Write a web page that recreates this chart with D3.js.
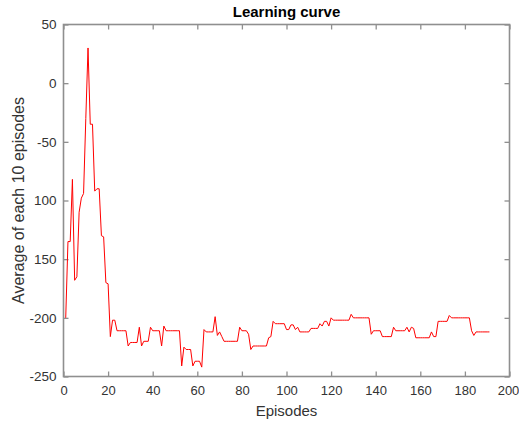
<!DOCTYPE html>
<html>
<head>
<meta charset="utf-8">
<script src="https://cdn.jsdelivr.net/npm/d3@7"></script>
<style>
  body { margin: 0; background: #fff; }
  text { font-family: "Liberation Sans", Arial, sans-serif; }
</style>
</head>
<body>
<div class="chart"></div>
<script>
const width = 519;
const height = 425;
const margin = {left: 63.5, top: 24.5, right: 9.5, bottom: 48.5};

// average of each 10 episodes, episode 1..191
const episodeAverages = [
  -200, -135, -135, -82, -168, -165, -110, -98, -94, -30,
  30, -35, -35, -92, -90, -90, -130, -131, -170, -171,
  -216, -202, -202, -211, -211, -211, -211, -211, -224, -221,
  -221, -221, -221, -208, -224, -220, -220, -220, -208, -211,
  -211, -211, -211, -224, -207, -211, -211, -211, -211, -211,
  -211, -211, -241, -225, -227, -227, -227, -241, -237, -237,
  -237, -242, -210, -212, -212, -212, -212, -199, -215, -212,
  -216, -220, -220, -220, -220, -220, -220, -220, -208, -211,
  -211, -211, -214, -227, -224, -224, -224, -224, -224, -224,
  -224, -217, -216, -203, -205, -205, -205, -205, -205, -210,
  -210, -206, -206, -210, -208, -212, -212, -212, -212, -212,
  -209, -209, -209, -209, -205, -207, -203, -203, -207, -200,
  -202, -202, -202, -202, -202, -202, -202, -202, -197, -200,
  -200, -200, -200, -200, -200, -200, -200, -214, -211, -211,
  -211, -211, -216, -216, -216, -216, -216, -208, -211, -211,
  -211, -211, -211, -208, -212, -208, -209, -217, -217, -217,
  -217, -217, -217, -217, -212, -216, -216, -203, -203, -203,
  -203, -203, -198, -200, -200, -200, -200, -200, -200, -200,
  -200, -200, -211, -215, -212, -212, -212, -212, -212, -212,
  -212
];
const episodes = episodeAverages.map((d, i) => i + 1);

const xTicks = [0, 20, 40, 60, 80, 100, 120, 140, 160, 180, 200];
const yTicks = [50, 0, -50, -100, -150, -200, -250];
const yTickLabels = ["50", "0", "-50", "100", "150", "-200", "-250"];

const axisColor = "#8f8f8f";
const textColor = "#333";

let svg = d3.select('.chart')
  .append('svg')
  .attr('width', width)
  .attr('height', height);

let xScale = d3.scaleLinear()
  .domain([0, 200])
  .range([margin.left, width - margin.right]);

let yScale = d3.scaleLinear()
  .domain([-250, 50])
  .range([height - margin.bottom, margin.top]);

// axes (ticks point inward, MATLAB style box)
let xAxis = d3.axisBottom(xScale)
  .tickValues(xTicks)
  .tickSizeInner(-5)
  .tickSizeOuter(0)
  .tickPadding(9);

let yAxis = d3.axisLeft(yScale)
  .tickValues(yTicks)
  .tickFormat((d, i) => yTickLabels[i])
  .tickSizeInner(-5)
  .tickSizeOuter(0)
  .tickPadding(7);

let gx = svg.append('g')
  .attr('transform', "translate(0," + (height - margin.bottom) + ")")
  .call(xAxis);

let gy = svg.append('g')
  .attr('transform', "translate(" + margin.left + ",0)")
  .call(yAxis);

svg.append('g')
  .attr('transform', "translate(0," + margin.top + ")")
  .call(d3.axisTop(xScale).tickValues(xTicks).tickFormat("").tickSizeInner(-5).tickSizeOuter(0));

svg.append('g')
  .attr('transform', "translate(" + (width - margin.right) + ",0)")
  .call(d3.axisRight(yScale).tickValues(yTicks).tickFormat("").tickSizeInner(-5).tickSizeOuter(0));

svg.selectAll('.domain').remove();
svg.selectAll('.tick line')
  .attr('stroke', axisColor)
  .attr('stroke-width', 1.3);
svg.selectAll('.tick text')
  .attr('fill', textColor)
  .style('font-size', '13.5px');

// last x label sits right on the window edge
gx.selectAll('.tick text')
  .style('font-size', '13px')
  .attr('dx', d => d === 200 ? -1.5 : 0);

// box
svg.append('rect')
  .attr('x', xScale(0))
  .attr('y', yScale(50))
  .attr('width', xScale(200) - xScale(0))
  .attr('height', yScale(-250) - yScale(50))
  .attr('fill', 'none')
  .attr('stroke', axisColor)
  .attr('stroke-width', 1.6);

// curve
let line = d3.line()
  .x((d, i) => xScale(episodes[i]))
  .y(d => yScale(d));

svg.append('path')
  .datum(episodeAverages)
  .attr('d', line)
  .attr('fill', 'none')
  .attr('stroke', '#ff0000')
  .attr('stroke-width', 1);

// labels
svg.append('text')
  .attr('x', (xScale(0) + xScale(200)) / 2)
  .attr('y', 17)
  .attr('text-anchor', 'middle')
  .style('font-size', '15px')
  .style('font-weight', 'bold')
  .attr('fill', '#000')
  .text('Learning curve');

svg.append('text')
  .attr('x', (xScale(0) + xScale(200)) / 2)
  .attr('y', 416)
  .attr('text-anchor', 'middle')
  .style('font-size', '15px')
  .attr('fill', textColor)
  .text('Episodes');

svg.append('text')
  .attr('transform', 'rotate(-90)')
  .attr('x', -(yScale(50) + yScale(-250)) / 2)
  .attr('y', 24)
  .attr('text-anchor', 'middle')
  .style('font-size', '16px')
  .attr('fill', textColor)
  .text('Average of each 10 episodes');
</script>
</body>
</html>
